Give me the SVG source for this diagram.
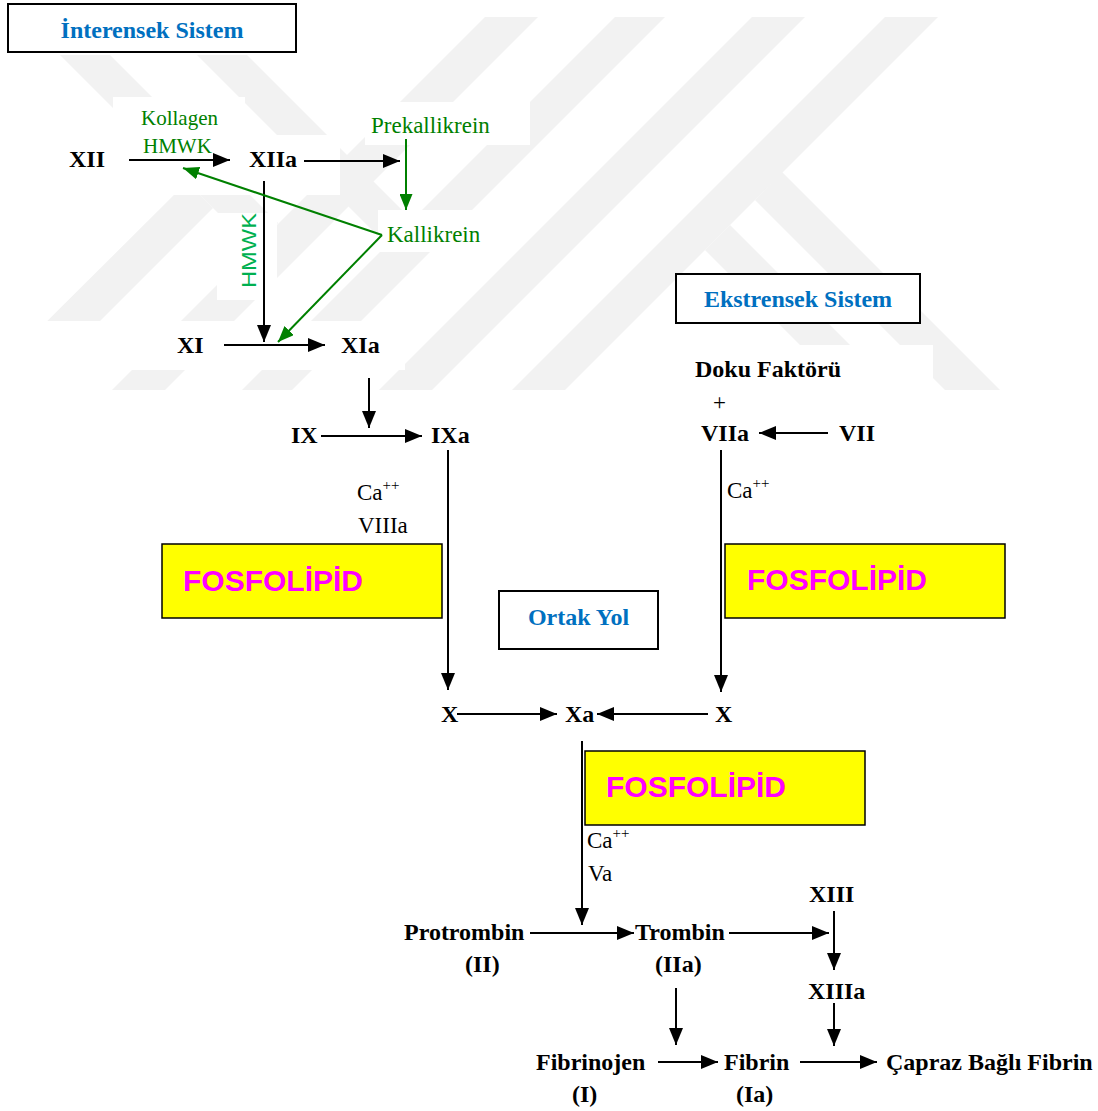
<svg xmlns="http://www.w3.org/2000/svg" width="1098" height="1111" viewBox="0 0 1098 1111">
<style>
.lb{font-family:"Liberation Serif","Times New Roman",serif;font-weight:bold;font-size:24px;fill:#000}
.rg{font-family:"Liberation Serif","Times New Roman",serif;font-size:23px;fill:#000}
.sup{font-size:15px}
.gr{font-family:"Liberation Serif","Times New Roman",serif;font-size:23px;fill:#008000}
.ttl{font-family:"Liberation Serif","Times New Roman",serif;font-weight:bold;font-size:24px;fill:#0070C0}
.fos{font-family:"Liberation Sans",Arial,sans-serif;font-weight:bold;font-size:30px;fill:#FF00FF}
.box{fill:#fff;stroke:#000;stroke-width:2}
.ybox{fill:#FFFF00;stroke:#000;stroke-width:1.5}
.ln{stroke:#000;stroke-width:2;fill:none;marker-end:url(#ah)}
.lg{stroke:#008000;stroke-width:2;fill:none;marker-end:url(#ahg)}
.wm{fill:#f2f2f2}
.wh{fill:#fff}
</style>
<defs>
<marker id="ah" markerWidth="17" markerHeight="14" refX="17" refY="7" orient="auto" markerUnits="userSpaceOnUse"><path d="M0,0 L17,7 L0,14 z" fill="#000"/></marker>
<marker id="ahg" markerWidth="16" markerHeight="13" refX="16" refY="6.5" orient="auto" markerUnits="userSpaceOnUse"><path d="M0,0 L16,6.5 L0,13 z" fill="#008000"/></marker>
</defs>
<rect width="1098" height="1111" fill="#fff"/>
<g id="watermark">
<polygon class="wm" points="485,17 538,17 165,390 112,390"/>
<polygon class="wm" points="615,17 665,17 292,390 242,390"/>
<polygon class="wm" points="752,17 805,17 432,390 379,390"/>
<polygon class="wm" points="885,17 938,17 565,390 512,390"/>
<polygon class="wm" points="782,172 1000,390 945,390 755,200"/>
<polygon class="wm" points="730,225 895,390 845,390 705,250"/>
<polygon class="wm" points="60,55 110,55 278,223 253,248"/>
<polygon class="wm" points="197,55 247,55 412,220 387,245"/>
<polygon class="wm" points="187,182 213,208 51,370 -2,370"/>
</g>
<g id="text-backgrounds">
<rect class="wh" x="113" y="97" width="132" height="38"/>
<rect class="wh" x="0" y="135" width="340" height="60"/>
<rect class="wh" x="365" y="102" width="165" height="43"/>
<rect class="wh" x="378" y="210" width="117" height="42"/>
<rect class="wh" x="217" y="213" width="60" height="87"/>
<rect class="wh" x="0" y="321" width="405" height="49"/>
<rect class="wh" x="680" y="345" width="253" height="60"/>
</g>
<g id="n-intrinsic"><rect class="box" x="8" y="4" width="288" height="48"/><text class="ttl" x="152" y="38" text-anchor="middle">İnterensek Sistem</text></g>
<g id="n-extrinsic"><rect class="box" x="676" y="274" width="244" height="49"/><text class="ttl" x="798" y="307" text-anchor="middle">Ekstrensek Sistem</text></g>
<g id="n-common"><rect class="box" x="499" y="591" width="159" height="58"/><text class="ttl" x="578.5" y="625" text-anchor="middle">Ortak Yol</text></g>
<g id="n-fos1"><rect class="ybox" x="162" y="544" width="280" height="74"/><text class="fos" x="183" y="591">FOSFOLİPİD</text></g>
<g id="n-fos2"><rect class="ybox" x="725" y="544" width="280" height="74"/><text class="fos" x="747" y="590">FOSFOLİPİD</text></g>
<g id="n-fos3"><rect class="ybox" x="585" y="751" width="280" height="74"/><text class="fos" x="606" y="797">FOSFOLİPİD</text></g>
<g id="connectors">
<line class="ln" x1="129" y1="160" x2="230" y2="160"/>
<line class="ln" x1="304" y1="161" x2="400" y2="161"/>
<line class="ln" x1="264" y1="181" x2="264" y2="342"/>
<line class="ln" x1="224" y1="345" x2="325" y2="345"/>
<line class="ln" x1="369" y1="378" x2="369" y2="428"/>
<line class="ln" x1="321" y1="436" x2="422" y2="436"/>
<line class="ln" x1="448" y1="450" x2="448" y2="690"/>
<line class="ln" x1="457" y1="714" x2="557" y2="714"/>
<line class="ln" x1="708" y1="714" x2="597" y2="714"/>
<line class="ln" x1="828" y1="433" x2="759" y2="433"/>
<line class="ln" x1="721" y1="450" x2="721" y2="692"/>
<line class="ln" x1="582" y1="741" x2="582" y2="925"/>
<line class="ln" x1="530" y1="933" x2="634" y2="933"/>
<line class="ln" x1="729" y1="933" x2="829" y2="933"/>
<line class="ln" x1="834" y1="911" x2="834" y2="970"/>
<line class="ln" x1="834" y1="1003" x2="834" y2="1046"/>
<line class="ln" x1="676" y1="988" x2="676" y2="1045"/>
<line class="ln" x1="658" y1="1062" x2="718" y2="1062"/>
<line class="ln" x1="800" y1="1062" x2="877" y2="1062"/>
<line class="lg" x1="406" y1="139" x2="406" y2="210"/>
<line class="lg" x1="382" y1="235" x2="183" y2="168"/>
<line class="lg" x1="382" y1="235" x2="278" y2="342"/>
</g>
<g id="n-XII"><text class="lb" x="69" y="167">XII</text></g>
<g id="n-XIIa"><text class="lb" x="249" y="167">XIIa</text></g>
<g id="n-kollagen"><text class="gr" x="141" y="125" style="font-size:21px">Kollagen</text><text class="gr" x="143" y="153" style="font-size:21px">HMWK</text></g>
<g id="n-prekallikrein"><text class="gr" x="371" y="133">Prekallikrein</text></g>
<g id="n-kallikrein"><text class="gr" x="387" y="242">Kallikrein</text></g>
<g id="n-hmwk-v"><text x="0" y="0" transform="translate(256,288) rotate(-90)" textLength="75" lengthAdjust="spacingAndGlyphs" style="font-family:'Liberation Sans',Arial,sans-serif;font-size:20px;fill:#00B050">HMWK</text></g>
<g id="n-XI"><text class="lb" x="177" y="353">XI</text></g>
<g id="n-XIa"><text class="lb" x="341" y="353">XIa</text></g>
<g id="n-IX"><text class="lb" x="291" y="443">IX</text></g>
<g id="n-IXa"><text class="lb" x="431" y="443">IXa</text></g>
<g id="n-ca1"><text class="rg" x="357" y="500">Ca<tspan class="sup" dy="-10">++</tspan></text><text class="rg" x="358" y="533">VIIIa</text></g>
<g id="n-doku"><text class="lb" x="695" y="377">Doku Faktörü</text><text class="rg" x="713" y="410">+</text></g>
<g id="n-VIIa"><text class="lb" x="701" y="441">VIIa</text></g>
<g id="n-VII"><text class="lb" x="839" y="441">VII</text></g>
<g id="n-ca2"><text class="rg" x="727" y="498">Ca<tspan class="sup" dy="-10">++</tspan></text></g>
<g id="n-X1"><text class="lb" x="441" y="722">X</text></g>
<g id="n-Xa"><text class="lb" x="565" y="722">Xa</text></g>
<g id="n-X2"><text class="lb" x="715" y="722">X</text></g>
<g id="n-ca3"><text class="rg" x="587" y="848">Ca<tspan class="sup" dy="-10">++</tspan></text><text class="rg" x="588" y="881">Va</text></g>
<g id="n-protrombin"><text class="lb" x="404" y="940">Protrombin</text><text class="lb" x="465" y="972">(II)</text></g>
<g id="n-trombin"><text class="lb" x="635" y="940">Trombin</text><text class="lb" x="655" y="972">(IIa)</text></g>
<g id="n-XIII"><text class="lb" x="809" y="902">XIII</text></g>
<g id="n-XIIIa"><text class="lb" x="808" y="999">XIIIa</text></g>
<g id="n-fibrinojen"><text class="lb" x="536" y="1070">Fibrinojen</text><text class="lb" x="572" y="1102">(I)</text></g>
<g id="n-fibrin"><text class="lb" x="724" y="1070">Fibrin</text><text class="lb" x="736" y="1102">(Ia)</text></g>
<g id="n-capraz"><text class="lb" x="886" y="1070">Çapraz Bağlı Fibrin</text></g>
</svg>
